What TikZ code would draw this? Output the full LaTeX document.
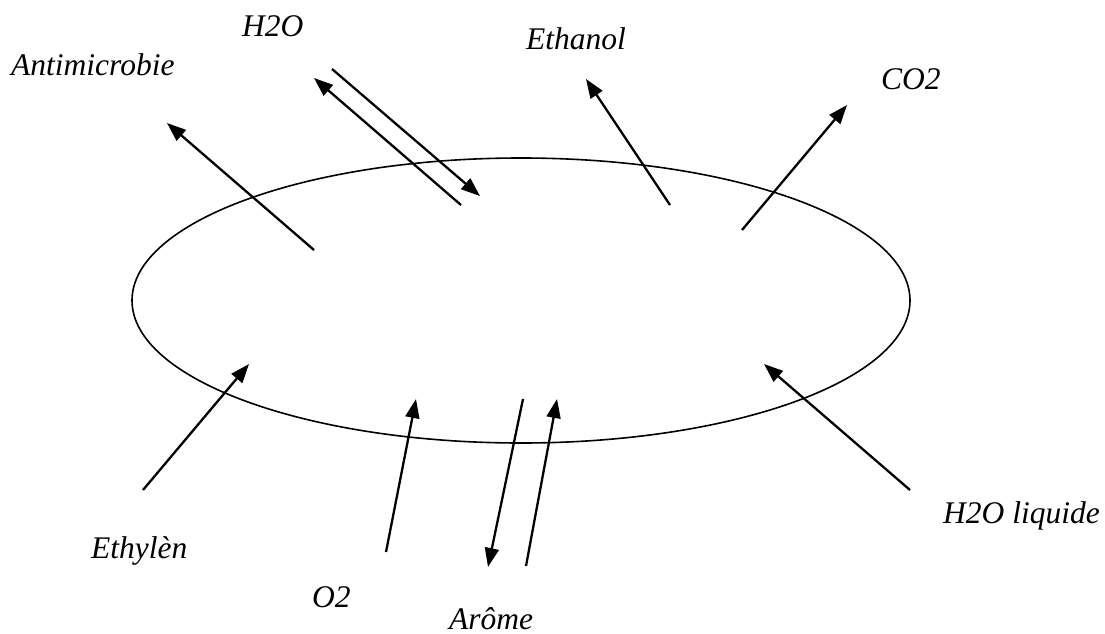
\documentclass[tikz,border=0pt]{standalone}
\usepackage{fontspec}
\setmainfont{Liberation Serif}
\usetikzlibrary{arrows.meta}

\begin{document}
\begin{tikzpicture}[
    x=1pt, y=-1pt,
    species/.style={anchor=base west, inner sep=0pt, font=\fontsize{31.5}{37}\selectfont\itshape},
    flow/.style={-{Triangle[length=19pt,width=14pt]}, line width=2.3pt},
    membrane/.style={draw, line width=1.6pt}
]
\useasboundingbox (0,0) rectangle (1105,634);

% Fruit membrane
\draw[membrane] (521,300.5) ellipse [x radius=389pt, y radius=142.5pt];

% Outgoing species
\node[species] (antimicro) at (11,75) {Antimicrobie};
\node[species] (waterout) at (242,37) {H2O};
\node[species] (ethanol) at (526,50) {Ethanol};
\node[species] (co2) at (881,89) {CO2};

% Incoming species
\node[species] (ethylene) at (91,558) {Ethylèn};
\node[species] (o2) at (312,607) {O2};
\node[species] (arome) at (449,629) {Arôme};
\node[species] (waterliq) at (943,523) {H2O liquide};

% Arrow ends
\coordinate (antimicroA) at (314,250); \coordinate (antimicroB) at (167,123);
\coordinate (waterA) at (461,205);     \coordinate (waterB) at (314,78);
\coordinate (waterC) at (332,69);      \coordinate (waterD) at (480,196);
\coordinate (ethanolA) at (670,205);   \coordinate (ethanolB) at (586,79);
\coordinate (co2A) at (742,230);       \coordinate (co2B) at (847,105);
\coordinate (ethyleneA) at (143,490);  \coordinate (ethyleneB) at (249,364);
\coordinate (o2A) at (386,552);        \coordinate (o2B) at (416,399);
\coordinate (aromeA) at (523,399);     \coordinate (aromeB) at (488,567);
\coordinate (aromeC) at (526,566);     \coordinate (aromeD) at (557,399);
\coordinate (liqA) at (910,490);       \coordinate (liqB) at (764,364);

% Arrows
\draw[flow] (antimicroA) -- (antimicroB);
\draw[flow] (waterA) -- (waterB);
\draw[flow] (waterC) -- (waterD);
\draw[flow] (ethanolA) -- (ethanolB);
\draw[flow] (co2A) -- (co2B);
\draw[flow] (ethyleneA) -- (ethyleneB);
\draw[flow] (o2A) -- (o2B);
\draw[flow] (aromeA) -- (aromeB);
\draw[flow] (aromeC) -- (aromeD);
\draw[flow] (liqA) -- (liqB);

\end{tikzpicture}
\end{document}
